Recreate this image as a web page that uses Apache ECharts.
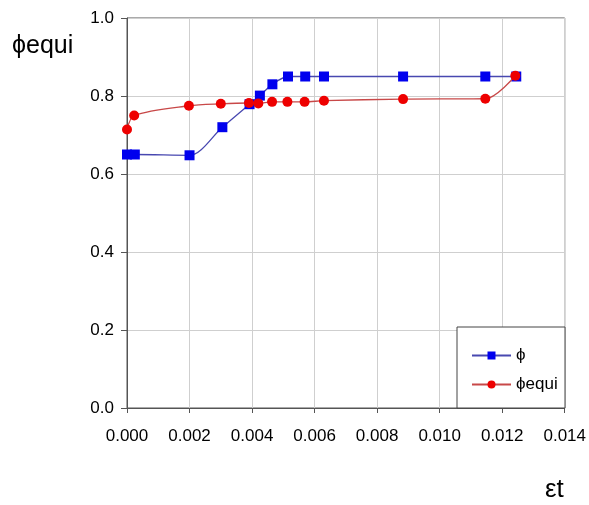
<!DOCTYPE html>
<html>
<head>
<meta charset="utf-8">
<script src="https://cdn.jsdelivr.net/npm/echarts@6/dist/echarts.min.js"></script>
<style>
html,body{margin:0;padding:0;background:#fff;}
#c{width:589px;height:505px;}
</style>
</head>
<body>
<div id="c"></div>
<script>
var xTicks = [0, 0.002, 0.004, 0.006, 0.008, 0.010, 0.012, 0.014];
var yTicks = [0.0, 0.2, 0.4, 0.6, 0.8, 1.0];

var phiX = [0, 0.00025, 0.002, 0.00305, 0.00392, 0.00425, 0.00465, 0.00515, 0.0057, 0.0063, 0.00883, 0.01146, 0.01245];
var phiY = [0.65, 0.65, 0.648, 0.72, 0.779, 0.801, 0.83, 0.85, 0.85, 0.85, 0.85, 0.85, 0.85];

var equiX = [0, 0.00023, 0.00198, 0.003, 0.0039, 0.0042, 0.00464, 0.00513, 0.00568, 0.0063, 0.00883, 0.01146, 0.01242];
var equiY = [0.714, 0.75, 0.775, 0.78, 0.782, 0.781, 0.785, 0.785, 0.785, 0.788, 0.792, 0.793, 0.852];

var seriesNames = ['\u03d5', '\u03d5equi'];
var yAxisTitle = '\u03d5equi';
var xAxisTitle = '\u03b5t';

function pairs(xs, ys){ return xs.map(function(x,i){ return [x, ys[i]]; }); }

var chart = echarts.init(document.getElementById('c'), null, {renderer:'canvas'});
var font = '"Liberation Sans", Arial, sans-serif';
chart.setOption({
  animation: false,
  backgroundColor: '#fff',
  textStyle: {fontFamily: font},
  grid: {left: 127, right: 24, top: 18, bottom: 97, show: true, borderColor: '#555', borderWidth: 1, backgroundColor: 'transparent'},
  xAxis: {
    type: 'value', min: xTicks[0], max: xTicks[xTicks.length-1], interval: 0.002,
    axisLine: {show: true, onZero: false, lineStyle: {color: '#555', width: 1}},
    axisTick: {show: true, inside: false, length: 5, lineStyle: {color: '#555'}},
    axisLabel: {color: '#000', fontSize: 17, margin: 20, fontFamily: font,
      formatter: function(v){ return v.toFixed(3); }},
    splitLine: {show: true, lineStyle: {color: '#cfcfcf', width: 1}}
  },
  yAxis: {
    type: 'value', min: yTicks[0], max: yTicks[yTicks.length-1], interval: 0.2,
    axisLine: {show: true, onZero: false, lineStyle: {color: '#555', width: 1}},
    axisTick: {show: true, inside: false, length: 6, lineStyle: {color: '#555'}},
    axisLabel: {color: '#000', fontSize: 17, margin: 13, fontFamily: font,
      formatter: function(v){ return v.toFixed(1); }},
    splitLine: {show: true, lineStyle: {color: '#cfcfcf', width: 1}}
  },
  graphic: [
    {type: 'rect', z: 50, shape: {x: 457, y: 327, width: 108, height: 81},
      style: {fill: '#fff', stroke: '#444', lineWidth: 1}},
    {type: 'text', z: 50, left: 12, top: 34,
      style: {text: yAxisTitle, fontSize: 25, fontFamily: font, fill: '#000'}},
    {type: 'text', z: 50, left: 545, top: 477,
      style: {text: xAxisTitle, fontSize: 26, fontFamily: font, fill: '#000'}}
  ],
  legend: {
    z: 60, left: 466, top: 342, orient: 'vertical',
    itemWidth: 39, itemHeight: 10, itemGap: 12,
    textStyle: {fontSize: 17, color: '#000', fontFamily: font},
    data: seriesNames
  },
  series: [
    {name: seriesNames[0], type: 'line', data: pairs(phiX, phiY), smooth: 0.3,
      symbol: 'rect', symbolSize: 10,
      itemStyle: {color: '#0000ee'},
      lineStyle: {color: '#4848b0', width: 1.3}, z: 3},
    {name: seriesNames[1], type: 'line', data: pairs(equiX, equiY), smooth: 0.3,
      symbol: 'circle', symbolSize: 10,
      itemStyle: {color: '#ee0000'},
      lineStyle: {color: '#c84848', width: 1.3}, z: 4}
  ]
});
</script>
</body>
</html>
